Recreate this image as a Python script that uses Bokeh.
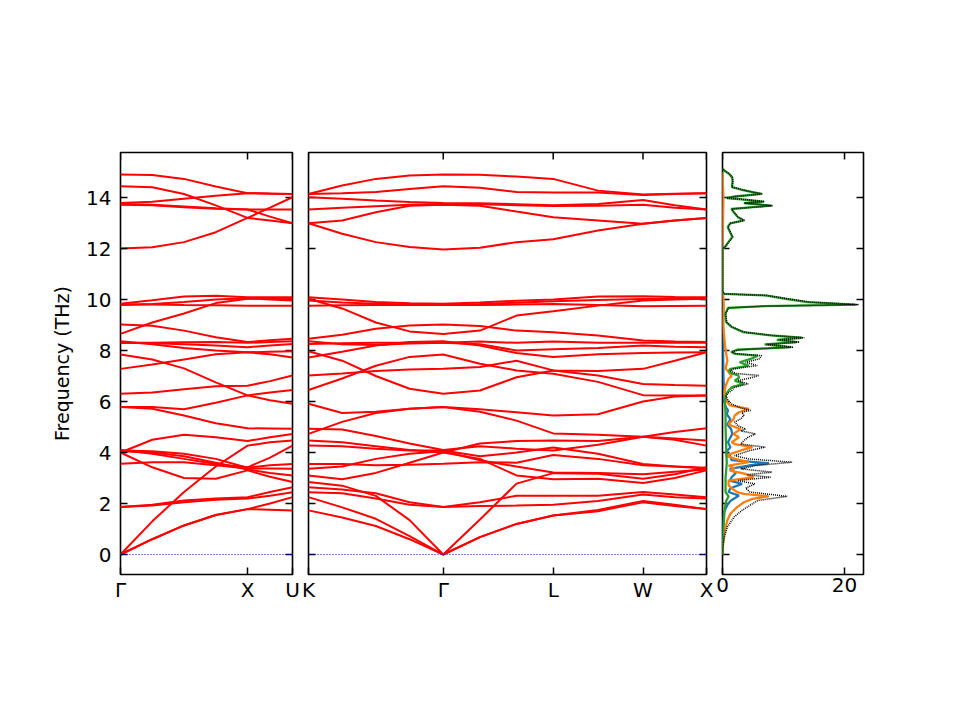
from bokeh.plotting import figure
from bokeh.layouts import row
from bokeh.models import Range1d, FixedTicker, Span
from bokeh.embed import file_html
from bokeh.resources import INLINE

FONT = "DejaVu Sans"

# ---------------- path coordinates / tick labels ----------------
LEFT_TICKS = [0.0, 1.0, 1.354]
LEFT_LABELS = ["Γ", "X", "U"]
LEFT_Q = [0.0, 0.25, 0.5, 0.75, 1.0, 1.177, 1.354]

MID_TICKS = [0.0, 1.061, 1.927, 2.634, 3.134]
MID_LABELS = ["K", "Γ", "L", "W", "X"]
MID_Q = [0.0, 0.265, 0.530, 0.796, 1.061, 1.350, 1.638, 1.927, 2.280, 2.634, 2.884, 3.134]

FREQ_TICKS = [0, 2, 4, 6, 8, 10, 12, 14]
DOS_TICKS = [0, 20]
FREQ_MIN, FREQ_MAX = -0.784, 15.765
DOS_MAX = 23.11

# ---------------- bands, left panel (Γ ... X ... U) ----------------
LEFT_LOW = [
    [0.0, 0.6, 1.14, 1.55, 1.78, 1.76, 1.73],
    [0.0, 0.6, 1.14, 1.55, 1.78, 2.0, 2.25],
    [1.86, 1.92, 2.05, 2.15, 2.2, 2.3, 2.44],
    [1.86, 1.95, 2.12, 2.2, 2.25, 2.45, 2.64],
    [4.0, 3.42, 3.0, 2.97, 3.3, 3.05, 2.84],
    [4.05, 4.0, 3.85, 3.6, 3.33, 3.2, 3.1],
    [3.56, 3.62, 3.62, 3.5, 3.37, 3.37, 3.36],
    [4.08, 4.05, 3.95, 3.75, 3.4, 3.5, 3.55],
    [4.1, 3.95, 3.75, 3.55, 3.42, 3.8, 4.27],
    [0.0, 1.3, 2.45, 3.45, 4.27, 4.4, 4.47],
    [4.0, 4.5, 4.7, 4.6, 4.45, 4.6, 4.73],
    [5.78, 5.72, 5.45, 5.15, 4.95, 4.94, 4.93],
    [5.78, 5.78, 5.7, 5.95, 6.24, 6.35, 6.45],
]
LEFT_MID = [
    [6.3, 6.35, 6.48, 6.6, 6.62, 6.8, 7.02],
    [7.84, 7.65, 7.3, 6.75, 6.24, 6.05, 5.91],
    [7.28, 7.45, 7.65, 7.85, 7.93, 7.85, 7.73],
    [8.36, 8.25, 8.1, 8.0, 7.93, 7.95, 7.97],
    [8.3, 8.28, 8.25, 8.2, 8.13, 8.2, 8.26],
    [8.3, 8.3, 8.32, 8.33, 8.3, 8.33, 8.36],
    [9.02, 8.97, 8.78, 8.52, 8.33, 8.4, 8.46],
    [8.65, 9.1, 9.45, 9.86, 10.03, 10.03, 10.03],
    [9.8, 9.8, 9.78, 9.77, 9.76, 9.76, 9.76],
    [9.78, 9.82, 9.9, 10.0, 10.05, 10.0, 9.96],
    [9.83, 9.97, 10.12, 10.15, 10.09, 10.09, 10.09],
]
LEFT_HIGH = [
    [14.9, 14.88, 14.73, 14.43, 14.17, 14.15, 14.14],
    [14.44, 14.4, 14.14, 13.69, 13.2, 13.1, 12.99],
    [13.78, 13.83, 13.95, 14.07, 14.17, 14.16, 14.14],
    [13.75, 13.72, 13.65, 13.58, 13.53, 13.53, 13.53],
    [13.72, 13.7, 13.62, 13.56, 13.53, 13.25, 12.99],
    [12.0, 12.05, 12.25, 12.64, 13.2, 13.6, 14.01],
]

# ---------------- bands, middle panel (K ... Γ ... L ... W ... X) ----------------
MID_LOW = [
    [1.73, 1.45, 1.12, 0.6, 0.0, 0.68, 1.2, 1.53, 1.7, 2.05, 1.9, 1.78],
    [2.25, 1.85, 1.4, 0.72, 0.0, 0.68, 1.2, 1.53, 1.75, 2.1, 1.95, 1.78],
    [2.84, 2.7, 2.3, 1.35, 0.0, 1.37, 2.78, 3.19, 3.17, 2.97, 3.15, 3.42],
    [2.44, 2.4, 2.2, 1.95, 1.86, 1.9, 1.92, 1.95, 2.1, 2.35, 2.25, 2.2],
    [2.64, 2.55, 2.4, 2.05, 1.86, 2.05, 2.3, 2.3, 2.3, 2.45, 2.35, 2.25],
    [3.55, 3.55, 3.5, 3.52, 3.56, 3.62, 3.6, 3.9, 3.75, 3.5, 3.45, 3.37],
    [3.1, 2.95, 3.2, 3.6, 4.0, 3.75, 3.1, 2.95, 2.97, 2.8, 3.0, 3.3],
    [3.36, 3.45, 3.75, 3.95, 4.05, 3.7, 3.45, 3.22, 3.2, 3.15, 3.25, 3.33],
    [4.27, 4.25, 4.15, 4.08, 4.08, 3.85, 4.0, 4.2, 3.95, 3.55, 3.45, 3.4],
    [4.47, 4.4, 4.25, 4.1, 4.0, 4.35, 4.45, 4.47, 4.45, 4.62, 4.8, 4.95],
    [4.93, 4.9, 4.65, 4.35, 4.1, 4.25, 4.15, 4.08, 4.3, 4.62, 4.55, 4.47],
    [5.91, 5.55, 5.6, 5.72, 5.78, 5.6, 5.25, 4.75, 4.7, 4.62, 4.5, 4.27],
    [4.73, 5.2, 5.55, 5.72, 5.78, 5.7, 5.58, 5.45, 5.5, 6.0, 6.2, 6.24],
]
MID_MID = [
    [7.97, 7.6, 7.0, 6.5, 6.3, 6.43, 6.95, 7.22, 7.02, 6.69, 6.65, 6.62],
    [6.45, 6.9, 7.4, 7.75, 7.84, 7.48, 7.22, 7.09, 6.77, 6.25, 6.24, 6.24],
    [7.02, 7.1, 7.2, 7.26, 7.28, 7.35, 7.6, 7.22, 7.2, 7.28, 7.6, 7.93],
    [7.73, 7.95, 8.2, 8.33, 8.36, 8.2, 7.9, 7.75, 7.85, 7.9, 7.92, 7.93],
    [8.26, 8.28, 8.3, 8.3, 8.3, 8.25, 8.0, 8.05, 8.1, 8.2, 8.15, 8.13],
    [8.36, 8.25, 8.22, 8.27, 8.3, 8.35, 8.3, 8.35, 8.3, 8.3, 8.3, 8.3],
    [8.46, 8.62, 8.85, 8.98, 9.02, 8.96, 8.78, 8.72, 8.59, 8.39, 8.35, 8.33],
    [10.03, 9.65, 9.1, 8.75, 8.65, 8.78, 9.37, 9.54, 9.76, 9.96, 10.0, 10.03],
    [9.76, 9.77, 9.78, 9.78, 9.78, 9.78, 9.8, 9.82, 9.78, 9.74, 9.75, 9.76],
    [9.96, 9.88, 9.83, 9.8, 9.8, 9.82, 9.87, 9.93, 9.98, 10.02, 10.04, 10.05],
    [10.09, 10.0, 9.9, 9.85, 9.83, 9.88, 9.95, 10.0, 10.12, 10.13, 10.1, 10.09],
]
MID_HIGH = [
    [14.14, 14.47, 14.73, 14.86, 14.9, 14.89, 14.82, 14.73, 14.27, 14.12, 14.15, 14.17],
    [14.14, 14.17, 14.22, 14.33, 14.44, 14.38, 14.22, 14.2, 14.2, 14.1, 14.14, 14.17],
    [14.01, 13.95, 13.88, 13.82, 13.78, 13.77, 13.74, 13.7, 13.75, 13.9, 13.7, 13.53],
    [13.53, 13.6, 13.66, 13.72, 13.75, 13.74, 13.7, 13.67, 13.68, 13.72, 13.6, 13.53],
    [12.99, 13.1, 13.42, 13.68, 13.72, 13.68, 13.45, 13.23, 13.1, 12.97, 13.1, 13.2],
    [12.99, 12.58, 12.25, 12.06, 11.96, 12.03, 12.25, 12.36, 12.71, 12.97, 13.1, 13.2],
]

# ---------------- DOS (frequency, density) ----------------
TOTAL_F = [0, 0.3, 0.69, 1.08, 1.47, 1.73, 1.99, 2.12, 2.28, 2.45, 2.6, 2.77, 2.9, 3.03, 3.13,
           3.23, 3.36, 3.49, 3.62, 3.75, 3.88, 4.0, 4.08, 4.21, 4.33, 4.47, 4.6, 4.73, 4.85,
           4.92, 5.05, 5.2, 5.32, 5.45, 5.58, 5.65, 5.75, 5.9, 6.04, 6.2, 6.3, 6.43, 6.56,
           6.69, 6.82, 6.92, 7.02, 7.1, 7.2, 7.28, 7.41, 7.54, 7.67, 7.8, 7.87, 7.94, 8.03,
           8.13, 8.24, 8.33, 8.42, 8.5, 8.59, 8.72, 8.92, 9.11, 9.44, 9.67, 9.74, 9.8, 9.9,
           10.03, 10.16, 10.22, 10.3, 12.0, 12.08, 12.31, 12.45, 12.84, 12.99, 13.1, 13.23,
           13.42, 13.55, 13.62, 13.68, 13.78, 13.84, 13.91, 13.98, 14.04, 14.14, 14.21, 14.3,
           14.41, 14.67, 14.8, 14.93, 15.06, 15.15]
TOTAL_D = [0, 0.05, 0.3, 0.8, 1.9, 3.2, 4.9, 5.8, 10.6, 4.5, 3.8, 5.3, 2.5, 7.9, 4.0,
           8.1, 3.0, 5.5, 11.4, 4.2, 2.0, 3.5, 4.5, 7.0, 3.0, 3.5, 4.2, 5.4, 3.0,
           3.8, 2.5, 2.0, 3.0, 3.5, 3.2, 4.6, 3.0, 1.5, 0.9, 0.6, 0.8, 1.5, 2.0,
           4.2, 2.5, 4.5, 6.0, 2.2, 1.3, 1.8, 5.7, 3.8, 6.0, 6.4, 2.3, 1.6, 2.6,
           11.6, 7.2, 12.6, 9.2, 13.4, 8.2, 3.6, 1.6, 0.7, 0.5, 1.0, 7.0, 22.3, 14.2,
           10.6, 7.2, 0.4, 0, 0, 0.5, 1.2, 1.7, 0.9, 1.3, 3.6, 2.6,
           1.9, 1.5, 5.1, 8.2, 3.6, 6.9, 4.1, 0.7, 2.1, 6.6, 5.0, 3.3,
           1.6, 1.7, 1.6, 1.1, 0.3, 0]

GREEN_F = [0, 1.0, 1.8, 2.1, 2.28, 2.45, 3.0, 3.6, 4.2, 5.0, 5.5, 6.0, 6.3, 6.43, 6.56, 6.69,
           6.82, 6.92, 7.02, 7.1, 7.2, 7.28, 7.41, 7.54, 7.67, 7.8, 7.87, 7.94, 8.03, 8.13,
           8.24, 8.33, 8.42, 8.5, 8.59, 8.72, 8.92, 9.11, 9.44, 9.67, 9.74, 9.8, 9.9, 10.03,
           10.16, 10.22, 10.3, 12.0, 12.08, 12.31, 12.45, 12.84, 12.99, 13.1, 13.23, 13.42,
           13.55, 13.62, 13.68, 13.78, 13.84, 13.91, 13.98, 14.04, 14.14, 14.21, 14.3, 14.41,
           14.67, 14.8, 14.93, 15.06, 15.15]
GREEN_D = [0, 0.15, 0.35, 0.6, 1.0, 0.5, 0.5, 0.7, 0.6, 0.5, 0.5, 0.4, 0.6, 1.0, 1.5, 3.5,
           2.0, 2.7, 2.6, 1.5, 1.0, 1.3, 4.3, 2.8, 4.6, 5.8, 2.0, 1.4, 2.4, 11.2,
           6.9, 12.2, 8.9, 13.0, 7.9, 3.4, 1.5, 0.6, 0.45, 0.9, 6.8, 21.8, 13.9, 10.3,
           7.0, 0.3, 0, 0, 0.45, 1.15, 1.6, 0.85, 1.25, 3.5, 2.5, 1.85,
           1.45, 5.0, 8.0, 3.5, 6.7, 4.0, 0.65, 2.0, 6.4, 4.9, 3.2, 1.55,
           1.65, 1.55, 1.05, 0.25, 0]

ORANGE_F = [0, 0.3, 0.56, 0.95, 1.34, 1.6, 1.86, 2.05, 2.18, 2.28, 2.38, 2.45, 2.6, 2.71, 2.9,
            3.03, 3.16, 3.29, 3.38, 3.49, 3.62, 3.75, 3.88, 4.08, 4.21, 4.33, 4.4, 4.6, 4.73,
            4.92, 5.05, 5.12, 5.3, 5.45, 5.58, 5.71, 5.85, 6.04, 6.3, 6.6, 6.9, 7.0, 7.3, 7.6,
            7.9, 8.2, 8.5, 9.0, 9.8, 10.2, 10.3, 12.0, 14.0, 15.0]
ORANGE_D = [0, 0.05, 0.16, 0.4, 0.8, 1.3, 2.4, 3.5, 4.9, 7.6, 3.5, 2.4, 1.5, 1.0, 1.0,
            5.1, 3.8, 1.2, 2.0, 1.0, 4.3, 2.1, 0.5, 3.0, 4.9, 2.0, 1.5, 2.7, 1.8,
            3.0, 1.5, 1.0, 1.8, 2.0, 2.7, 4.3, 1.2, 0.6, 0.3, 0.5, 1.0, 1.5, 0.5, 0.8,
            0.6, 0.4, 0.3, 0.1, 0.2, 0.1, 0, 0, 0.15, 0]

BLUE_F = [0, 1.0, 1.6, 1.8, 1.99, 2.12, 2.31, 2.45, 2.6, 2.77, 2.9, 3.03, 3.2, 3.36, 3.49,
          3.58, 3.7, 3.88, 4.0, 4.21, 4.4, 4.73, 4.92, 5.1, 5.3, 5.5, 5.65, 5.8, 6.0, 7.0,
          8.0, 9.8, 10.3, 15.0]
BLUE_D = [0, 0.05, 0.2, 0.5, 0.9, 1.4, 2.7, 1.0, 1.3, 3.2, 1.2, 1.5, 2.2, 1.2, 4.3,
          7.6, 1.5, 1.2, 0.5, 1.3, 0.9, 1.6, 1.4, 0.8, 1.3, 0.7, 0.9, 0.5, 0.3, 0.15,
          0.1, 0.1, 0, 0]

FRAME_H = 422
TICK_LEN = 7


def base_fig(frame_w, x_end, border_left, border_right, y_axis):
    p = figure(frame_width=frame_w, frame_height=FRAME_H,
               x_range=Range1d(0, x_end), y_range=Range1d(FREQ_MIN, FREQ_MAX),
               output_backend="svg", toolbar_location=None,
               y_axis_location=("left" if y_axis else None),
               min_border_left=border_left, min_border_right=border_right,
               min_border_top=152, min_border_bottom=60)
    p.grid.visible = False
    p.background_fill_color = "white"
    p.border_fill_color = "white"
    p.outline_line_color = "black"
    p.outline_line_width = 1.6
    p.outline_line_alpha = 1.0
    return p


def style_axis(ax, ticks, labels=None, standoff=3):
    ax.ticker = FixedTicker(ticks=ticks, minor_ticks=[])
    ax.axis_line_color = None
    ax.major_tick_in = TICK_LEN
    ax.major_tick_out = 0
    ax.major_tick_line_color = "black"
    ax.major_tick_line_width = 1.5
    ax.minor_tick_line_color = None
    if labels is not None:
        ax.major_label_overrides = {t: l for t, l in zip(ticks, labels)}
    ax.major_label_text_font = FONT
    ax.major_label_text_color = "black"
    ax.major_label_text_font_size = "20px"
    ax.major_label_standoff = standoff


def inward_ticks(p, frame_w, x_end, xticks, left_ticks):
    """Inward tick marks on the top and right edges (and left when no axis)."""
    dy = TICK_LEN * (FREQ_MAX - FREQ_MIN) / FRAME_H
    dx = TICK_LEN * x_end / frame_w
    n = len(xticks)
    p.segment(x0=xticks, x1=xticks, y0=[FREQ_MAX] * n, y1=[FREQ_MAX - dy] * n,
              line_color="black", line_width=1.5)
    m = len(FREQ_TICKS)
    p.segment(x0=[x_end] * m, x1=[x_end - dx] * m, y0=FREQ_TICKS, y1=FREQ_TICKS,
              line_color="black", line_width=1.5)
    if left_ticks:
        p.segment(x0=[0] * m, x1=[dx] * m, y0=FREQ_TICKS, y1=FREQ_TICKS,
                  line_color="black", line_width=1.5)


def zero_line(p):
    p.add_layout(Span(location=0, dimension="width", line_color="blue",
                      line_dash="1 2", line_width=1))


# ---------------- panel 1 ----------------
W1 = 172
p1 = base_fig(W1, LEFT_Q[-1], 120, 8, True)
style_axis(p1.below[0], LEFT_TICKS, LEFT_LABELS)
style_axis(p1.left[0], FREQ_TICKS, None, 9)
p1.left[0].axis_label = "Frequency (THz)"
p1.left[0].axis_label_text_font = FONT
p1.left[0].axis_label_text_font_size = "19px"
p1.left[0].axis_label_text_font_style = "normal"
p1.left[0].axis_label_text_color = "black"
p1.left[0].axis_label_standoff = 10
inward_ticks(p1, W1, LEFT_Q[-1], LEFT_TICKS, False)
zero_line(p1)
for group in (LEFT_LOW, LEFT_MID, LEFT_HIGH):
    p1.multi_line(xs=[LEFT_Q] * len(group), ys=group, line_color="red", line_width=2)

# ---------------- panel 2 ----------------
W2 = 398
p2 = base_fig(W2, MID_Q[-1], 8, 8, False)
style_axis(p2.below[0], MID_TICKS, MID_LABELS)
inward_ticks(p2, W2, MID_Q[-1], MID_TICKS, True)
zero_line(p2)
for group in (MID_LOW, MID_MID, MID_HIGH):
    p2.multi_line(xs=[MID_Q] * len(group), ys=group, line_color="red", line_width=2)

# ---------------- panel 3 (DOS) ----------------
W3 = 141
p3 = base_fig(W3, DOS_MAX, 8, 20, False)
style_axis(p3.below[0], DOS_TICKS)
inward_ticks(p3, W3, DOS_MAX, DOS_TICKS, True)
p3.line(BLUE_D, BLUE_F, line_color="#1f77b4", line_width=2.3)
p3.line(ORANGE_D, ORANGE_F, line_color="#ff7f0e", line_width=2.3)
p3.line(GREEN_D, GREEN_F, line_color="#2ca02c", line_width=2.3)
p3.line(TOTAL_D, TOTAL_F, line_color="black", line_width=1.5, line_dash="1 1")

layout = row(p1, p2, p3)
open("out.html", "w").write(file_html(layout, INLINE))
